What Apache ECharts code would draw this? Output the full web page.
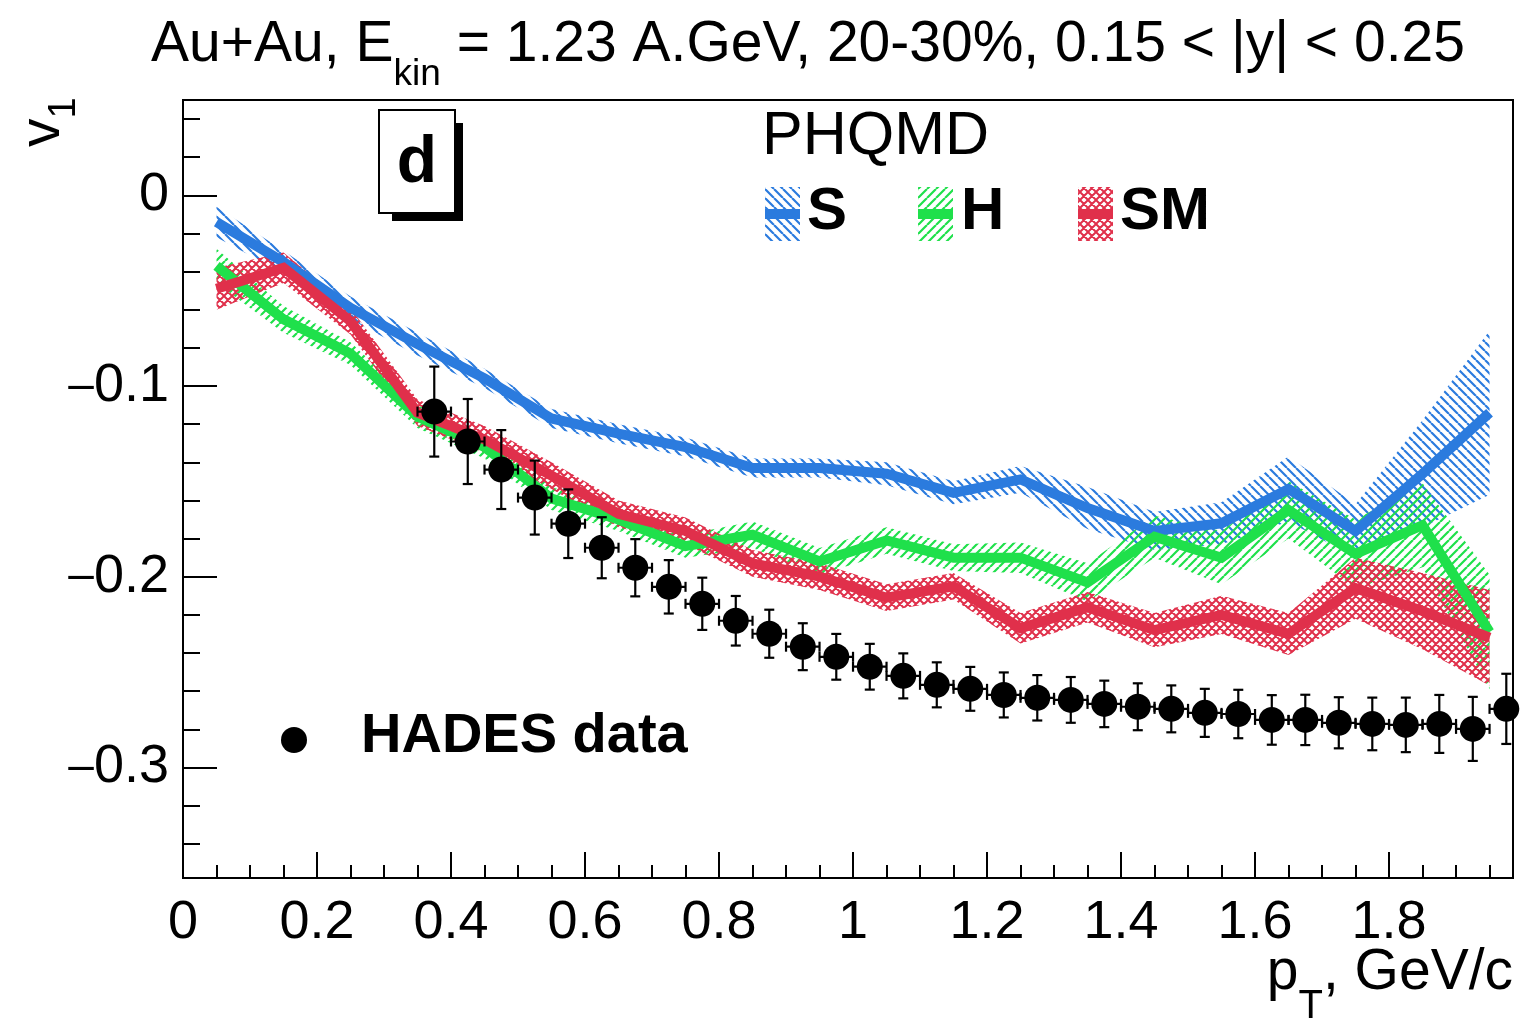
<!DOCTYPE html>
<html>
<head>
<meta charset="utf-8">
<script src="https://cdn.jsdelivr.net/npm/echarts@6/dist/echarts.min.js"></script>
<style>
html, body { margin: 0; padding: 0; background: #fff; }
#container { width: 1527px; height: 1019px; }
</style>
</head>
<body>
<div id="container"></div>
<script>
// PHQMD model bins (pT bin centres, GeV/c)
var ptModel = [0.05, 0.15, 0.25, 0.35, 0.45, 0.55, 0.65, 0.75, 0.85, 0.95,
               1.05, 1.15, 1.25, 1.35, 1.45, 1.55, 1.65, 1.75, 1.85, 1.95]

// S
var v1S = [-0.014, -0.035, -0.059, -0.078, -0.096, -0.117, -0.125, -0.132, -0.143, -0.143,
           -0.146, -0.156, -0.149, -0.164, -0.176, -0.172, -0.154, -0.176, -0.146, -0.114]
var errS = [0.008, 0.006, 0.006, 0.006, 0.005, 0.005, 0.005, 0.005, 0.005, 0.005,
            0.006, 0.006, 0.007, 0.011, 0.010, 0.011, 0.017, 0.014, 0.028, 0.043]
// H
var v1H = [-0.037, -0.065, -0.083, -0.116, -0.132, -0.159, -0.170, -0.184, -0.178, -0.192,
           -0.181, -0.190, -0.190, -0.203, -0.179, -0.190, -0.165, -0.188, -0.173, -0.229]
var errH = [0.009, 0.007, 0.006, 0.006, 0.006, 0.006, 0.006, 0.006, 0.007, 0.007,
            0.007, 0.007, 0.008, 0.010, 0.011, 0.014, 0.015, 0.018, 0.022, 0.030]
// SM
var v1SM = [-0.049, -0.038, -0.066, -0.114, -0.128, -0.147, -0.167, -0.176, -0.193, -0.200,
            -0.211, -0.205, -0.227, -0.216, -0.228, -0.220, -0.230, -0.206, -0.218, -0.232]
var errSM = [0.011, 0.008, 0.007, 0.007, 0.007, 0.007, 0.007, 0.007, 0.007, 0.007,
             0.007, 0.007, 0.008, 0.008, 0.009, 0.010, 0.011, 0.016, 0.020, 0.025]

// HADES data
var ptHades = [0.375, 0.425, 0.475, 0.525, 0.575, 0.625, 0.675, 0.725, 0.775, 0.825, 0.875,
               0.925, 0.975, 1.025, 1.075, 1.125, 1.175, 1.225, 1.275, 1.325, 1.375, 1.425,
               1.475, 1.525, 1.575, 1.625, 1.675, 1.725, 1.775, 1.825, 1.875, 1.925, 1.975]
var v1Hades = [-0.1134, -0.1291, -0.1438, -0.1585, -0.1722, -0.1848, -0.1953, -0.2053, -0.2142, -0.2231, -0.2299,
               -0.2367, -0.2420, -0.2472, -0.2520, -0.2567, -0.2588, -0.2620, -0.2635, -0.2646, -0.2667, -0.2682,
               -0.2693, -0.2714, -0.2720, -0.2751, -0.2751, -0.2766, -0.2772, -0.2777, -0.2772, -0.2798, -0.2693]
var errHades = [0.0236, 0.0223, 0.0207, 0.0194, 0.0180, 0.0160, 0.0150, 0.0140, 0.0137, 0.0130, 0.0126,
                0.0123, 0.0120, 0.0120, 0.0118, 0.0118, 0.0115, 0.0118, 0.0119, 0.0120, 0.0122, 0.0123,
                0.0123, 0.0126, 0.0127, 0.0130, 0.0132, 0.0134, 0.0138, 0.0143, 0.0152, 0.0168, 0.0184]
var ptHalfBin = 0.025

var colS = '#2b7bde'
var colH = '#1fe04b'
var colSM = '#e0304b'
var FONT = '"Liberation Sans", Arial, Helvetica, sans-serif'

//hatch pattern on a small canvas
function hatch(color, dir, size, lw) {
    var c = document.createElement('canvas')
    c.width = size
    c.height = size
    var g = c.getContext('2d')
    g.strokeStyle = color
    g.lineWidth = lw
    g.beginPath()
    for (var k = -1; k <= 1; k++) {
        if (dir != '/') { g.moveTo(k * size, 0); g.lineTo(k * size + size, size) }
        if (dir != '\\') { g.moveTo(k * size, size); g.lineTo(k * size + size, 0) }
    }
    g.stroke()
    return c
}
var patS = hatch(colS, '\\', 9, 2.2)
var patH = hatch(colH, '/', 9, 2.2)
var patSM = hatch(colSM, 'x', 8, 2)

function pairs(xs, ys) {
    var out = []
    for (var i = 0; i < xs.length; i++) out.push([xs[i], ys[i]])
    return out
}

//hatched band (one polygon) and central line
function model(name, v, err, color, pat) {
    var d = []
    for (var i = 0; i < v.length; i++) d.push([ptModel[i], v[i] - err[i], v[i] + err[i]])
    return [
        { type: 'custom', name: name + ' band', data: d, clip: true, silent: true,
          renderItem: function (params, api) {
              if (params.dataIndex !== 0) return null
              var pts = []
              for (var i = 0; i < d.length; i++) pts.push(api.coord([d[i][0], d[i][2]]))
              for (var i = d.length - 1; i >= 0; i--) pts.push(api.coord([d[i][0], d[i][1]]))
              return { type: 'polygon', shape: { points: pts }, style: { fill: { image: pat, repeat: 'repeat' } } }
          } },
        { type: 'line', name: name, data: pairs(ptModel, v), symbol: 'none', silent: true,
          lineStyle: { color: color, width: 10, join: 'miter' } }
    ]
}

var dom = document.getElementById('container')
var myChart = echarts.init(dom)

var series = []
series = series.concat(model('S', v1S, errS, colS, patS))
series = series.concat(model('H', v1H, errH, colH, patH))
series = series.concat(model('SM', v1SM, errSM, colSM, patSM))

var hadesData = []
for (var i = 0; i < ptHades.length; i++) hadesData.push([ptHades[i], v1Hades[i], errHades[i]])

series.push({
    type: 'custom',
    name: 'HADES errors',
    data: hadesData,
    clip: true,
    z: 5,
    renderItem: function (params, api) {
        var x = api.value(0), y = api.value(1), e = api.value(2)
        var top = api.coord([x, y + e]), bot = api.coord([x, y - e])
        var lf = api.coord([x - ptHalfBin, y]), rt = api.coord([x + ptHalfBin, y])
        var cap = 5
        var st = { stroke: '#000', lineWidth: 2.2 }
        function ln(x1, y1, x2, y2) { return { type: 'line', shape: { x1: x1, y1: y1, x2: x2, y2: y2 }, style: st } }
        return {
            type: 'group',
            children: [
                ln(top[0], top[1], bot[0], bot[1]),
                ln(top[0] - cap, top[1], top[0] + cap, top[1]),
                ln(bot[0] - cap, bot[1], bot[0] + cap, bot[1]),
                ln(lf[0], lf[1], rt[0], rt[1]),
                ln(lf[0], lf[1] - cap, lf[0], lf[1] + cap),
                ln(rt[0], rt[1] - cap, rt[0], rt[1] + cap)
            ]
        }
    }
})
series.push({
    type: 'scatter',
    name: 'HADES data',
    data: pairs(ptHades, v1Hades),
    symbol: 'circle',
    symbolSize: 26,
    itemStyle: { color: '#000', opacity: 1 },
    z: 6
})

function fmtX(v) {
    if (Math.abs(v) < 1e-9) return '0'
    if (Math.abs(v - 1) < 1e-9) return '1'
    return String(+v.toFixed(1))
}
function fmtY(v) {
    if (Math.abs(v) < 1e-9) return '{n|0}'
    return (v < 0 ? '{m|\u2013}' : '') + '{n|' + Math.abs(v).toFixed(1) + '}'
}

var axisBlack = { show: true, onZero: false, lineStyle: { color: '#000', width: 2 } }

option = {
    animation: false,
    backgroundColor: '#fff',
    grid: { left: 183, right: 14, top: 100, bottom: 141, show: true, borderColor: '#000', borderWidth: 2, backgroundColor: 'transparent' },
    xAxis: [
        { type: 'value', min: 0, max: 1.985, interval: 0.2, position: 'bottom',
          axisLine: axisBlack, splitLine: { show: false },
          axisTick: { inside: true, length: 26, lineStyle: { color: '#000', width: 2 } },
          axisLabel: { formatter: fmtX, fontSize: 54, fontFamily: FONT, color: '#000', margin: 18, showMaxLabel: false } },
        { type: 'value', min: 0, max: 1.985, interval: 0.05, position: 'bottom',
          axisLine: { show: false, onZero: false }, splitLine: { show: false }, axisLabel: { show: false },
          axisTick: { inside: true, length: 13, lineStyle: { color: '#000', width: 2 } } }
    ],
    yAxis: [
        { type: 'value', min: -0.358, max: 0.05, minInterval: 0.1, maxInterval: 0.1, position: 'left',
          axisLine: axisBlack, splitLine: { show: false },
          axisTick: { inside: true, length: 34, lineStyle: { color: '#000', width: 2 } },
          axisLabel: { formatter: fmtY, margin: 14, showMinLabel: false, showMaxLabel: false,
                       rich: { n: { fontSize: 54, fontFamily: FONT, color: '#000' },
                               m: { fontSize: 46, fontFamily: FONT, color: '#000' } } } },
        { type: 'value', min: -0.358, max: 0.05, minInterval: 0.02, maxInterval: 0.02, position: 'left',
          axisLine: { show: false, onZero: false }, splitLine: { show: false }, axisLabel: { show: false },
          axisTick: { inside: true, length: 17, lineStyle: { color: '#000', width: 2 } } }
    ],
    series: series,
    graphic: [
        // title
        { type: 'text', x: 808, y: 17, z: 10,
          style: { text: '{a|Au+Au, E}{s|kin}{a| = 1.23 A.GeV, 20-30%, 0.15 < |y| < 0.25}', align: 'center', verticalAlign: 'top',
                   rich: { a: { fontSize: 57, lineHeight: 57, verticalAlign: 'top', fontFamily: FONT, fill: '#000' },
                           s: { fontSize: 37, lineHeight: 116, fontFamily: FONT, fill: '#000' } } } },
        // x title
        { type: 'text', x: 1513, y: 945, z: 10,
          style: { text: '{a|p}{s|T}{a|, GeV/c}', align: 'right', verticalAlign: 'top',
                   rich: { a: { fontSize: 57, lineHeight: 57, verticalAlign: 'top', fontFamily: FONT, fill: '#000' },
                           s: { fontSize: 40, lineHeight: 124, fontFamily: FONT, fill: '#000' } } } },
        // y title
        { type: 'text', x: 15, y: 147, rotation: Math.PI / 2, z: 10,
          style: { text: '{a|v}{s|1}', align: 'left', verticalAlign: 'top',
                   rich: { a: { fontSize: 57, lineHeight: 57, verticalAlign: 'top', fontFamily: FONT, fill: '#000' },
                           s: { fontSize: 38, lineHeight: 100, fontFamily: FONT, fill: '#000' } } } },
        // panel label
        { type: 'rect', shape: { x: 392, y: 123, width: 71, height: 98 }, style: { fill: '#000' }, z: 10 },
        { type: 'rect', shape: { x: 379, y: 110, width: 76, height: 103 }, style: { fill: '#fff', stroke: '#000', lineWidth: 2 }, z: 11 },
        { type: 'text', x: 417, y: 164, z: 12,
          style: { text: 'd', fontSize: 66, fontWeight: 'bold', fontFamily: FONT, fill: '#000', align: 'center', verticalAlign: 'middle' } },
        // legend PHQMD
        { type: 'text', x: 762, y: 137, z: 10,
          style: { text: 'PHQMD', fontSize: 61, fontFamily: FONT, fill: '#000', align: 'left', verticalAlign: 'middle' } },
        { type: 'rect', shape: { x: 765, y: 187, width: 35, height: 54 }, style: { fill: { image: patS, repeat: 'repeat' } }, z: 10 },
        { type: 'line', shape: { x1: 765, y1: 214, x2: 800, y2: 214 }, style: { stroke: colS, lineWidth: 10 }, z: 11 },
        { type: 'text', x: 807, y: 212, z: 10,
          style: { text: 'S', fontSize: 60, fontWeight: 'bold', fontFamily: FONT, fill: '#000', align: 'left', verticalAlign: 'middle' } },
        { type: 'rect', shape: { x: 918, y: 187, width: 35, height: 54 }, style: { fill: { image: patH, repeat: 'repeat' } }, z: 10 },
        { type: 'line', shape: { x1: 918, y1: 214, x2: 953, y2: 214 }, style: { stroke: colH, lineWidth: 10 }, z: 11 },
        { type: 'text', x: 961, y: 212, z: 10,
          style: { text: 'H', fontSize: 60, fontWeight: 'bold', fontFamily: FONT, fill: '#000', align: 'left', verticalAlign: 'middle' } },
        { type: 'rect', shape: { x: 1078, y: 187, width: 35, height: 54 }, style: { fill: { image: patSM, repeat: 'repeat' } }, z: 10 },
        { type: 'line', shape: { x1: 1078, y1: 214, x2: 1113, y2: 214 }, style: { stroke: colSM, lineWidth: 10 }, z: 11 },
        { type: 'text', x: 1120, y: 212, z: 10,
          style: { text: 'SM', fontSize: 60, fontWeight: 'bold', fontFamily: FONT, fill: '#000', align: 'left', verticalAlign: 'middle' } },
        // legend HADES
        { type: 'circle', shape: { cx: 294, cy: 740, r: 13 }, style: { fill: '#000' }, z: 10 },
        { type: 'text', x: 361, y: 737, z: 10,
          style: { text: 'HADES data', fontSize: 56, fontWeight: 'bold', fontFamily: FONT, fill: '#000', align: 'left', verticalAlign: 'middle' } }
    ]
}

myChart.setOption(option)
</script>
</body>
</html>
